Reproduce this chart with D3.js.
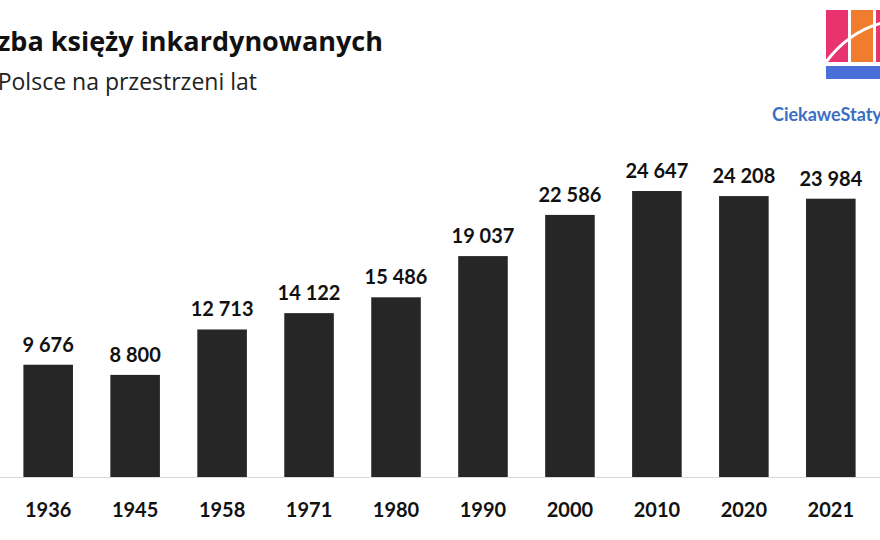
<!DOCTYPE html>
<html><head><meta charset="utf-8">
<script src="https://cdn.jsdelivr.net/npm/d3@7"></script>
<style>body{margin:0;background:#fff}svg{font-family:Lato,"Open Sans",sans-serif}</style>
</head><body><svg id="c" width="880" height="540"></svg>
<script>
var years = ["1936","1945","1958","1971","1980","1990","2000","2010","2020","2021"]
var priests = [9676, 8800, 12713, 14122, 15486, 19037, 22586, 24647, 24208, 23984]

var svg = d3.select("#c")
var x = d3.scaleBand().domain(years).range([6, 873]).paddingInner(0.43).paddingOuter(0.2)
var y = d3.scaleLinear().domain([0, 24647]).range([477, 191])
var fmt = function(v){ return d3.format(",")(v).replace(",", " ") }

// title, shifted so the start is cut like the source image
svg.append("text").attr("x", 383).attr("y", 51).attr("text-anchor", "end")
    .attr("font-family", "'Open Sans'").attr("font-size", 27).attr("font-weight", "bold").attr("fill", "#111")
    .text("Liczba księży inkardynowanych")
svg.append("text").attr("x", 257).attr("y", 90).attr("text-anchor", "end")
    .attr("font-family", "'Open Sans'").attr("font-size", 23).attr("fill", "#222")
    .text("w Polsce na przestrzeni lat")

// logo
var logo = svg.append("g")
logo.append("rect").attr("x", 826).attr("y", 10).attr("width", 22).attr("height", 52).attr("fill", "#e8336f")
logo.append("rect").attr("x", 851).attr("y", 10).attr("width", 22).attr("height", 52).attr("fill", "#f07c2d")
logo.append("rect").attr("x", 876).attr("y", 10).attr("width", 10).attr("height", 52).attr("fill", "#e8336f")
logo.append("rect").attr("x", 826).attr("y", 66).attr("width", 60).attr("height", 13).attr("fill", "#4a6fd8")
logo.append("path").attr("d", "M826,62 Q850,30 886,22").attr("stroke", "#fff").attr("stroke-width", 3).attr("fill", "none")
svg.append("text").attr("x", 772).attr("y", 121).attr("font-size", 18).attr("font-weight", "bold")
    .attr("fill", "#3a6fc4").text("CiekaweStaty")

svg.append("line").attr("x1", 0).attr("x2", 880).attr("y1", 477.5).attr("y2", 477.5).attr("stroke", "#d9d9d9")

svg.selectAll(".bar").data(priests).enter().append("rect")
    .attr("x", function(d, i){ return x(years[i]) })
    .attr("width", x.bandwidth())
    .attr("y", function(d){ return y(d) })
    .attr("height", function(d){ return 477 - y(d) })
    .attr("fill", "#262626")

svg.selectAll(".val").data(priests).enter().append("text")
    .attr("x", function(d, i){ return x(years[i]) + x.bandwidth() / 2 })
    .attr("y", function(d){ return y(d) - 13 })
    .attr("text-anchor", "middle").attr("font-size", 20).attr("font-weight", "bold").attr("fill", "#111")
    .text(fmt)

svg.selectAll(".yr").data(years).enter().append("text")
    .attr("x", function(d){ return x(d) + x.bandwidth() / 2 })
    .attr("y", 517)
    .attr("text-anchor", "middle").attr("font-size", 20).attr("font-weight", "bold").attr("fill", "#111")
    .text(function(d){ return d })
</script></body></html>
